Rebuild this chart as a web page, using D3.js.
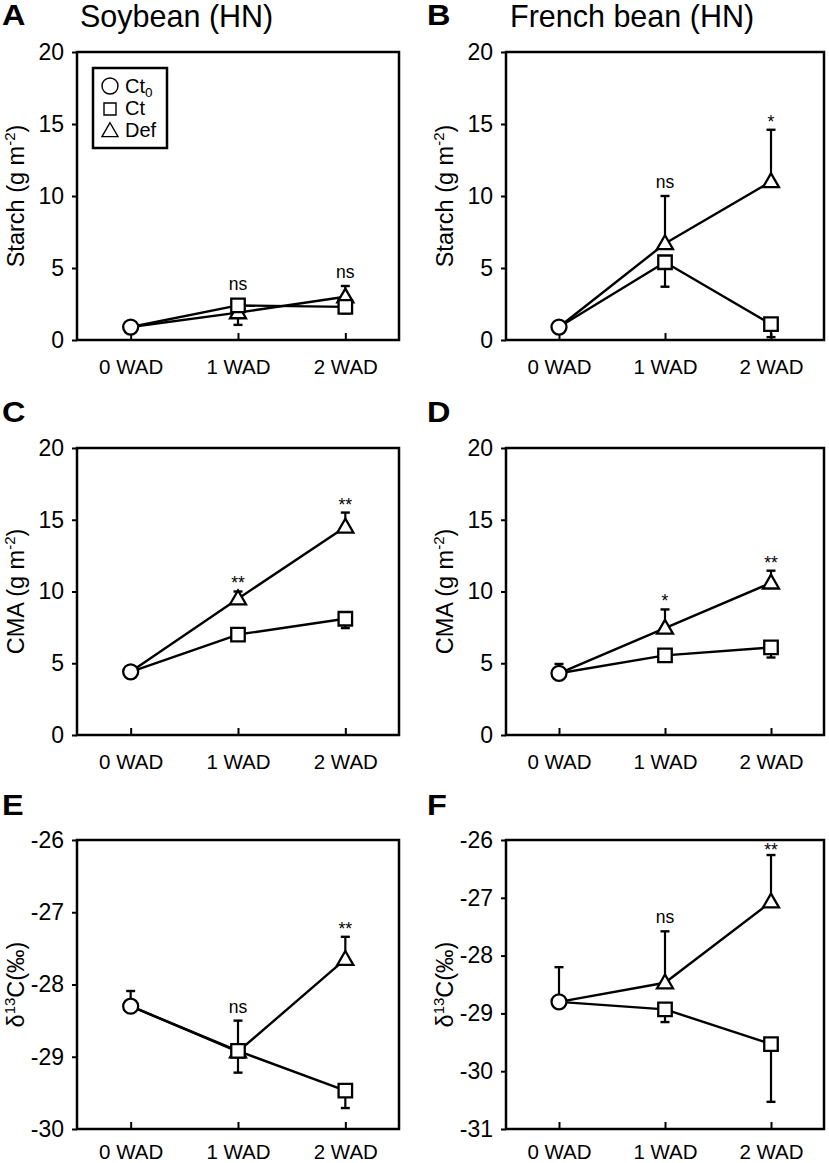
<!DOCTYPE html>
<html>
<head>
<meta charset="utf-8">
<script src="https://cdn.jsdelivr.net/npm/d3@7"></script>
<style>
  html, body { margin: 0; padding: 0; background: #fff; }
  svg { display: block; font-family: "Liberation Sans", Arial, Helvetica, sans-serif; }
</style>
</head>
<body>
<svg id="chart" width="829" height="1163"></svg>
<script>
// ---------------- DATA ----------------
const weekLabels = ["0 WAD", "1 WAD", "2 WAD"];
const panelLetters = ["A", "B", "C", "D", "E", "F"];
const columnTitles = ["Soybean (HN)", "French bean (HN)"];
const yDomains = [[0, 20], [0, 20], [0, 20], [0, 20], [-30, -26], [-31, -26]];
const yTickValues = [
  [0, 5, 10, 15, 20], [0, 5, 10, 15, 20],
  [0, 5, 10, 15, 20], [0, 5, 10, 15, 20],
  [-30, -29, -28, -27, -26], [-31, -30, -29, -28, -27, -26]
];
const yLabelMain = ["Starch (g m", "Starch (g m", "CMA (g m", "CMA (g m", "δ", "δ"];
const yLabelSup = ["-2", "-2", "-2", "-2", "13", "13"];
const yLabelTail = [")", ")", ")", ")", "C(‰)", "C(‰)"];

// Ct0 (0 WAD), shared start of both lines
const ct0Mean = [0.9, 0.9, 4.4, 4.3, -28.3, -28.8];
const ct0Err = [0.1, 0.1, 0.1, 0.65, 0.21, 0.6];
// Ct at 1 WAD, 2 WAD (signed error: + drawn up, - drawn down)
const ctMean = [[2.4, 2.3], [5.4, 1.1], [7.0, 8.1], [5.55, 6.1], [-28.92, -29.47], [-28.93, -29.53]];
const ctErr = [[0.2, -0.45], [-1.7, -0.9], [-0.35, -0.65], [-0.45, -0.7], [-0.3, -0.24], [-0.22, -1.0]];
// Def at 1 WAD, 2 WAD
const defMean = [[1.9, 3.0], [6.7, 11.0], [9.5, 14.5], [7.45, 10.6], [-28.93, -27.65], [-28.47, -27.07]];
const defErr = [[-0.85, 0.75], [3.3, 3.6], [0.5, 1.0], [1.3, 0.85], [0.43, 0.31], [0.89, 0.81]];
// significance labels at 1 WAD, 2 WAD
const signif = [["ns", "ns"], ["ns", "*"], ["**", "**"], ["*", "**"], ["ns", "**"], ["ns", "**"]];

const legendLabels = ["Ct", "Ct", "Def"];

// ---------------- LAYOUT ----------------
const colLeft = [77, 506], colRight = [399, 824];
const rowTop = [52, 448, 840], rowBottom = [340, 735, 1129];
const xLabelPad = [19, 19, 15];
const letterBaseline = [25, 422, 815];
const letterX = [2, 427];
const titleX = [80, 510];

const svg = d3.select("#chart");

const sym = {
  circle: d3.symbol().type(d3.symbolCircle).size(Math.PI * 7.5 * 7.5),
  square: d3.symbol().type(d3.symbolSquare).size(13.5 * 13.5),
  triangle: d3.symbol().type(d3.symbolTriangle).size(Math.sqrt(3) / 4 * 16 * 16)
};

panelLetters.forEach((letter, i) => {
  const col = i % 2, row = Math.floor(i / 2);
  const L = colLeft[col], R = colRight[col], T = rowTop[row], B = rowBottom[row];
  const g = svg.append("g");

  const x = d3.scalePoint().domain(weekLabels).range([L, R]).padding(0.5);
  const y = d3.scaleLinear().domain(yDomains[i]).range([B, T]);

  // panel letter
  g.append("text").attr("x", letterX[col]).attr("y", letterBaseline[row])
    .attr("font-size", 29).attr("font-weight", "bold")
    .attr("transform", `translate(${letterX[col]},0) scale(1.12,1) translate(${-letterX[col]},0)`)
    .text(letter);
  if (row === 0) {
    g.append("text").attr("x", titleX[col]).attr("y", 27)
      .attr("font-size", 30.5).text(columnTitles[col]);
  }

  // y axis
  const ya = g.append("g").attr("transform", `translate(${L},0)`)
    .call(d3.axisLeft(y).tickValues(yTickValues[i]).tickSize(5).tickPadding(8)
      .tickFormat(d => String(d)));
  ya.select(".domain").remove();
  ya.selectAll("line").attr("stroke", "#000").attr("stroke-width", 2);
  ya.selectAll("text").attr("font-size", 23).attr("fill", "#000")
    .attr("font-family", "Liberation Sans, Arial, sans-serif");

  // x axis
  const xa = g.append("g").attr("transform", `translate(0,${B})`)
    .call(d3.axisBottom(x).tickSizeInner(-7).tickSizeOuter(0).tickPadding(xLabelPad[row]));
  xa.select(".domain").remove();
  xa.selectAll("line").attr("stroke", "#000").attr("stroke-width", 2);
  xa.selectAll("text").attr("font-size", 20.5).attr("fill", "#000")
    .attr("font-family", "Liberation Sans, Arial, sans-serif");

  // frame
  g.append("rect").attr("x", L).attr("y", T).attr("width", R - L).attr("height", B - T)
    .attr("fill", "none").attr("stroke", "#000").attr("stroke-width", 2.5);

  // y label
  const yl = g.append("text")
    .attr("transform", `translate(${L - 53},${(T + B) / 2}) rotate(-90)`)
    .attr("text-anchor", "middle").attr("font-size", 23.5);
  yl.append("tspan").text(yLabelMain[i]);
  yl.append("tspan").attr("font-size", 15).attr("dy", -9).text(yLabelSup[i]);
  yl.append("tspan").attr("dy", 9).text(yLabelTail[i]);

  // series points
  const ctPts = [{ w: weekLabels[0], v: ct0Mean[i], e: ct0Err[i] }]
    .concat(ctMean[i].map((v, k) => ({ w: weekLabels[k + 1], v, e: ctErr[i][k] })));
  const defPts = [{ w: weekLabels[0], v: ct0Mean[i], e: ct0Err[i] }]
    .concat(defMean[i].map((v, k) => ({ w: weekLabels[k + 1], v, e: defErr[i][k] })));

  const line = d3.line().x(d => x(d.w)).y(d => y(d.v));
  [defPts, ctPts].forEach(pts => {
    g.append("path").attr("d", line(pts)).attr("fill", "none")
      .attr("stroke", "#000").attr("stroke-width", 2.4).attr("stroke-linejoin", "round");
  });

  // error bars
  const allErr = ctPts.concat(defPts.slice(1));
  allErr.forEach(d => {
    const cx = x(d.w), y0 = y(d.v), y1 = y(d.v + d.e);
    g.append("line").attr("x1", cx).attr("x2", cx).attr("y1", y0).attr("y2", y1)
      .attr("stroke", "#000").attr("stroke-width", 2.2);
    g.append("line").attr("x1", cx - 4.5).attr("x2", cx + 4.5).attr("y1", y1).attr("y2", y1)
      .attr("stroke", "#000").attr("stroke-width", 2.4);
  });

  // markers: Def, then Ct, then Ct0
  defPts.slice(1).forEach(d => {
    g.append("path").attr("d", sym.triangle())
      .attr("transform", `translate(${x(d.w)},${y(d.v) + 1})`)
      .attr("fill", "#fff").attr("stroke", "#000").attr("stroke-width", 2.3);
  });
  ctPts.slice(1).forEach(d => {
    g.append("path").attr("d", sym.square())
      .attr("transform", `translate(${x(d.w)},${y(d.v)})`)
      .attr("fill", "#fff").attr("stroke", "#000").attr("stroke-width", 2.3);
  });
  g.append("path").attr("d", sym.circle())
    .attr("transform", `translate(${x(weekLabels[0])},${y(ct0Mean[i])})`)
    .attr("fill", "#fff").attr("stroke", "#000").attr("stroke-width", 2.3);

  // significance labels
  signif[i].forEach((s, k) => {
    const w = weekLabels[k + 1];
    const tops = [
      y(ctMean[i][k]) - 7, y(ctMean[i][k] + Math.max(ctErr[i][k], 0)),
      y(defMean[i][k]) - 8, y(defMean[i][k] + Math.max(defErr[i][k], 0))
    ];
    const top = d3.min(tops);
    let base = s === "ns" ? top - 8 : top - 2;
    if (s !== "ns") base = Math.max(base, T + 16);
    g.append("text").attr("x", x(w)).attr("y", base).attr("text-anchor", "middle")
      .attr("font-size", 17.5).text(s);
  });

  // legend in panel A
  if (i === 0) {
    const lg = g.append("g");
    lg.append("rect").attr("x", 93).attr("y", 68).attr("width", 74).attr("height", 80)
      .attr("fill", "#fff").attr("stroke", "#000").attr("stroke-width", 2.5);
    const legSym = [
      d3.symbol().type(d3.symbolCircle).size(Math.PI * 8 * 8),
      d3.symbol().type(d3.symbolSquare).size(12 * 12),
      d3.symbol().type(d3.symbolTriangle).size(Math.sqrt(3) / 4 * 16 * 16)
    ];
    const legY = [86, 109, 132];
    const legBase = [93, 115, 137];
    legSym.forEach((s, k) => {
      lg.append("path").attr("d", s()).attr("transform", `translate(110,${legY[k]})`)
        .attr("fill", "#fff").attr("stroke", "#000").attr("stroke-width", 1.4);
      const t = lg.append("text").attr("x", 125).attr("y", legBase[k]).attr("font-size", 20)
        .text(legendLabels[k]);
      if (k === 0) t.append("tspan").attr("font-size", 13.5).attr("dy", 4).text("0");
    });
  }
});
</script>
</body>
</html>
